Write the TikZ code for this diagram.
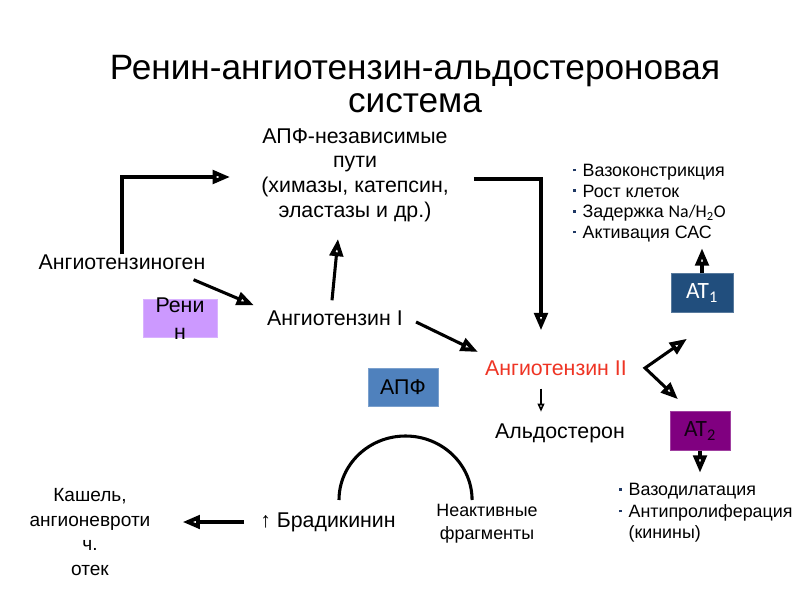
\documentclass[tikz,border=0pt]{standalone}
\usepackage{fontspec}
\setmainfont{Liberation Sans}
\newfontfamily\calibfont{Carlito}
\usetikzlibrary{arrows.meta}
\usetikzlibrary{positioning}
\definecolor{reninviolet}{RGB}{204,153,255}
\definecolor{apfblue}{RGB}{79,129,189}
\definecolor{atonenavy}{RGB}{33,78,125}
\definecolor{attwopurple}{RGB}{128,0,128}
\definecolor{angred}{RGB}{238,52,36}
\definecolor{bulletblue}{RGB}{31,56,100}
% small square bullet of the effect lists
\newcommand*\bul{\makebox[7pt][l]{\textcolor{bulletblue}{\raisebox{0.28em}{\rule{2pt}{2pt}}}}}

\begin{document}
\begin{tikzpicture}
    [%
        x=0.75pt, y=-0.75pt,%
        header/.style={%
            font=\fontsize{26.4}{24.5}\selectfont,%
            align=center,%
            inner sep=0pt%
        },%
        term/.style={%
            font=\fontsize{16}{18.5}\selectfont,%
            align=center,%
            inner sep=0pt%
        },%
        side/.style={%
            font=\fontsize{13.4}{17.25}\selectfont,%
            align=center,%
            inner sep=0pt%
        },%
        effects/.style={%
            font=\fontsize{13.4}{15.5}\selectfont,%
            align=left,%
            anchor=west,%
            inner sep=0pt%
        },%
        enzyme/.style={%
            draw=#1!75!white,%
            fill=#1,%
            line width=0.6pt,%
            minimum height=29pt,%
            inner sep=0pt,%
            font=\fontsize{16}{18.5}\selectfont%
        },%
        receptor/.style={%
            enzyme=#1,%
            font=\calibfont\fontsize{17.5}{20}\selectfont%
        },%
        fat tip/.tip={Triangle[open, fill=white, length=13pt, width=10pt, line width=2.9pt]},%
        fat arrow/.style={%
            line width=2.3pt,%
            -fat tip%
        },%
        fork arrow/.style={%
            line width=2.3pt,%
            fat tip-fat tip%
        },%
        thin arrow/.style={%
            line width=0.8pt,%
            -{Triangle[open, fill=white, length=6pt, width=5pt, line width=1.2pt]}%
        }%
    ]%
    \useasboundingbox (0,0) rectangle (800,600);
%
    \node[header] (title) at (415,84) {Ренин-ангиотензин-альдостероновая\\система};
    \node[term] (apfnz) at (355,175) {АПФ-независимые\\пути\\(химазы, катепсин,\\эластазы и др.)};
    \node[term] (ango) at (122,262) {Ангиотензиноген};
    \node[enzyme=reninviolet, minimum width=55.5pt,
        label={[term, font=\fontsize{16}{20}\selectfont]center:{Рени\\н}}] (renin) at (180,318.5) {};
    \node[term] (ang1) at (335,318) {Ангиотензин I};
    \node[term, text=angred] (ang2) at (556,368) {Ангиотензин II};
    \node[enzyme=apfblue, minimum width=52.5pt] (apf) at (403,387.5) {АПФ};
    \node[term] (aldo) at (560,433) {Альдостерон};
    \node[receptor=atonenavy, minimum width=46.5pt, text=white] (at1) at (702,293) {AT\textsubscript{1}};
    \node[receptor=attwopurple, minimum width=45pt, text=black!85!attwopurple] (at2) at (700,431) {AT\textsubscript{2}};
%
    \node[effects] (at1-effects) at (573,203) {\bul Вазоконстрикция\\\bul Рост клеток\\\bul Задержка {\calibfont Na/H\textsubscript{2}O}\\\bul Активация САС};
    \node[effects, font=\fontsize{13.4}{16}\selectfont] (at2-effects) at (619,513) {\bul Вазодилатация\\\bul Антипролиферация\\\hspace*{7pt}(кинины)};
%
    \node[side] (inactive) at (487,523.5) {Неактивные\\фрагменты};
    \node[term] (brady) at (328,522) {↑ Брадикинин};
    \node[side, font=\fontsize{14.3}{18.5}\selectfont] (cough) at (90,532) {Кашель,\\ангионевроти\\ч.\\отек};
%
    % breakdown of bradykinin
    \draw[line width=2.3pt] (339,500) arc[start angle=180, end angle=0, x radius=49.9pt, y radius=48pt];
%
    \draw[fat arrow] (ango.north) |- ([shift={(-23.25pt,-1.5pt)}]apfnz.west);
    \draw[fat arrow] ([shift={(-9pt,-7.5pt)}]ango.south east) -- ([shift={(-9.75pt,3.75pt)}]ang1.north west);
    \draw[fat arrow] ([shift={(-2.25pt,7.5pt)}]ang1.north) -- ([shift={(-12.75pt,-12.75pt)}]apfnz.south);
    \draw[fat arrow] ([shift={(9.75pt,-3pt)}]ang1.east) -- ([shift={(-5.25pt,12pt)}]ang2.west);
    \draw[fat arrow] ([shift={(18.75pt,-3pt)}]apfnz.east) -| ([shift={(-11.25pt,22.5pt)}]ang2.north);
    \draw[thin arrow] ([shift={(-11.25pt,-9.75pt)}]ang2.south) -- ++(0,-17.25pt);
    \coordinate (fork) at ([xshift=13.5pt]ang2.east);
    \draw[fork arrow] ([shift={(-11.25pt,-19.5pt)}]at1.south) -- (fork) -- ([shift={(-16.5pt,9pt)}]at2.north);
    \draw[fat arrow] (at1.north) -- ++(0,18.75pt);
    \draw[fat arrow] (at2.south) -- ++(0,-16.5pt);
    \draw[fat arrow] ([xshift=-12pt]brady.west) -- ([xshift=24pt]cough.east |- brady.west);
\end{tikzpicture}
\end{document}
